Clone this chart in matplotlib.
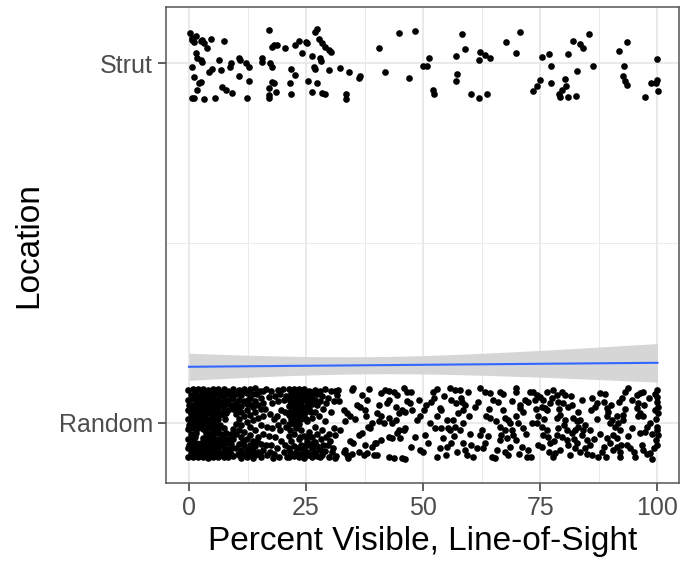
import numpy as np
import matplotlib.pyplot as plt

plt.rcParams['font.family'] = ['Liberation Sans', 'DejaVu Sans']

categories = ["Random", "Strut"]
x_ticks = [0, 25, 50, 75, 100]

# Strut points: (percent visible, vertical jitter)
strut_pts = [
    (0.2, 0.085), (0.7, 0.069), (1.1, 0.059), (0.6, 0.064), (1.6, 0.075), (2.6, 0.062), (3.2, 0.055),
    (2.8, 0.064), (3.9, 0.041), (4.6, 0.066), (7.5, 0.062), (1.4, 0.027), (1.8, 0.013), (2.5, 0.008),
    (2.8, 0.004), (0.7, -0.010), (1.1, -0.038), (2.5, -0.052), (2.1, -0.056), (1.8, -0.075), (0.6, -0.096),
    (1.1, -0.096), (3.3, -0.100), (5.5, -0.096), (4.3, -0.024), (5.0, -0.015), (6.8, -0.019), (6.4, 0.008),
    (7.1, -0.066), (7.8, -0.075), (9.2, -0.082), (8.9, -0.001), (8.7, -0.010), (10.7, 0.013), (11.0, 0.008),
    (12.2, 0.001), (12.8, -0.010), (10.7, -0.036), (12.8, -0.050), (12.3, -0.096), (15.6, 0.013),
    (15.6, 0.004), (17.4, -0.001), (17.8, -0.010), (17.1, 0.092), (18.1, 0.050), (18.8, 0.050),
    (17.8, 0.045), (20.6, 0.041), (22.7, 0.050), (23.5, 0.062), (24.9, 0.059), (25.2, 0.055), (24.2, 0.027),
    (26.3, 0.019), (26.9, 0.087), (27.4, 0.096), (27.7, 0.066), (28.4, 0.055), (29.1, 0.045), (29.9, 0.036),
    (30.4, 0.031), (27.9, 0.013), (28.1, 0.006), (26.7, -0.010), (27.0, -0.015), (29.9, -0.019),
    (32.3, -0.013), (34.1, -0.026), (36.3, -0.040), (36.6, -0.036), (21.7, -0.015), (22.7, -0.033),
    (21.5, -0.055), (21.7, -0.087), (17.8, -0.052), (18.1, -0.056), (17.1, -0.070), (17.1, -0.089),
    (17.1, -0.098), (18.5, -0.080), (25.4, -0.050), (27.4, -0.056), (26.3, -0.080), (28.4, -0.082),
    (29.1, -0.087), (33.6, -0.087), (33.6, -0.100), (40.5, 0.043), (41.8, -0.024), (44.8, 0.084),
    (46.9, -0.040), (48.3, 0.089),
    (50.0, -0.008), (50.9, -0.008), (51.3, 0.013), (52.0, -0.075), (52.3, -0.087), (58.2, 0.081),
    (58.9, 0.038), (57.1, 0.020), (57.3, -0.029), (57.1, -0.050), (62.1, 0.031), (62.0, 0.008),
    (63.2, 0.022), (64.3, 0.013), (60.3, -0.087), (62.0, -0.096), (63.7, -0.087), (67.7, 0.059),
    (70.7, 0.087), (69.9, 0.027), (75.3, 0.016), (76.9, 0.024), (77.3, -0.008), (77.3, -0.055),
    (74.9, -0.047), (74.2, -0.064), (73.5, -0.078), (80.3, -0.044), (80.5, -0.064), (79.6, -0.075),
    (78.9, -0.087), (79.1, -0.095), (81.0, -0.095), (82.6, -0.092), (80.8, 0.025), (81.9, 0.062),
    (83.5, 0.053), (84.2, 0.041), (85.3, 0.081), (82.8, -0.022), (86.2, -0.008), (91.7, 0.034),
    (93.6, 0.059), (92.9, -0.008), (92.7, -0.036), (93.1, -0.050), (93.5, -0.061), (97.4, -0.094),
    (98.6, -0.056), (100.0, 0.011), (100.0, -0.047), (99.7, -0.056), (100.2, -0.077),
]

# Random, dense blob 0-8 %: (x, jitter values at that x)
random_cols_a = [
    (-0.2, [0.092, 0.064, 0.037, 0.010, -0.017, -0.044, -0.071, -0.096]),
    (0.1, [0.050, -0.005, -0.060]),
    (0.4, [0.078, 0.051, 0.024, -0.003, -0.030, -0.057, -0.084]),
    (0.9, [0.095, 0.066, 0.040, 0.012, -0.015, -0.042, -0.069, -0.095]),
    (1.2, [0.086, 0.030, -0.040, -0.090]),
    (1.4, [0.080, 0.053, 0.026, -0.001, -0.028, -0.055, -0.082]),
    (2.0, [0.093, 0.067, 0.039, 0.013, -0.014, -0.068, -0.096]),
    (2.2, [0.060, 0.000, -0.075]),
    (2.5, [0.079, 0.052, 0.025, -0.002, -0.056, -0.083]),
    (2.8, [0.088, 0.040, -0.010, -0.088]),
    (3.1, [0.094, 0.065, 0.038, 0.011, -0.016, -0.043, -0.070, -0.094]),
    (3.3, [0.070, 0.020, -0.060]),
    (3.6, [0.081, 0.054, 0.027, 0.000, -0.029, -0.056, -0.083]),
    (4.1, [0.092, 0.066, 0.040, 0.012, -0.015, -0.042, -0.069, -0.097]),
    (4.4, [0.088, 0.030, -0.030, -0.088]),
    (4.7, [0.079, 0.052, 0.025, -0.002, -0.030, -0.057, -0.084]),
    (4.9, [0.060, 0.000, -0.070]),
    (5.2, [0.095, 0.067, 0.039, 0.013, -0.016, -0.043, -0.070, -0.095]),
    (5.5, [0.087, 0.045, -0.010, -0.085]),
    (5.7, [0.080, 0.053, 0.026, -0.001, -0.029, -0.055, -0.082]),
    (6.0, [0.065, 0.020, -0.060]),
    (6.3, [0.093, 0.065, 0.038, 0.011, -0.017, -0.044, -0.071, -0.096]),
    (6.6, [0.085, -0.005, -0.088]),
    (6.8, [0.078, 0.051, 0.024, -0.030, -0.058, -0.084]),
    (7.1, [0.055, 0.025, -0.050]),
    (7.4, [0.094, 0.066, 0.039, -0.015, -0.043, -0.069, -0.094]),
    (7.7, [0.087, 0.012, -0.075]),
    (7.9, [0.081, 0.053, 0.027, -0.028, -0.056, -0.082]),
]

# Random, 8-16 %
random_cols_b = [
    (8.4, [0.090, 0.063, 0.036, -0.045, -0.072, -0.095]),
    (8.9, [0.077, 0.050, -0.031, -0.058, -0.086]),
    (9.2, [0.085, -0.070]),
    (9.5, [0.094, 0.066, 0.040, -0.018, -0.045, -0.093]),
    (10.1, [0.080, 0.052, 0.025, -0.004, -0.032, -0.071]),
    (10.4, [0.040, -0.085]),
    (10.6, [0.092, 0.064, 0.012, -0.020, -0.058, -0.090]),
    (11.2, [0.078, 0.046, 0.030, -0.006, -0.040, -0.075, -0.097]),
    (11.5, [0.088, -0.050]),
    (11.8, [0.095, 0.060, 0.018, -0.026, -0.060, -0.085]),
    (12.4, [0.082, 0.052, 0.035, 0.002, -0.045, -0.072, -0.096]),
    (12.7, [0.065, -0.085]),
    (13.0, [0.093, 0.068, 0.022, -0.012, -0.033, -0.062, -0.086]),
    (13.3, [0.050, -0.070]),
    (13.6, [0.080, 0.045, 0.008, -0.050, -0.078, -0.097]),
    (14.2, [0.096, 0.062, 0.030, -0.020, -0.065, -0.090]),
    (14.5, [0.080, -0.050]),
    (14.8, [0.085, 0.050, 0.015, -0.038, -0.080]),
    (15.1, [0.090, -0.085]),
    (15.4, [0.070, 0.038, -0.005, -0.058, -0.095]),
    (15.9, [0.090, 0.055, 0.020, -0.030, -0.075]),
]

# Random, dense blob 21-27 %
random_cols_d = [
    (21.3, [0.093, 0.070, 0.047, 0.022, -0.002, -0.035, -0.070, -0.095]),
    (21.6, [0.060, 0.030, -0.020, -0.080]),
    (21.8, [0.082, 0.058, 0.034, 0.010, -0.050, -0.085]),
    (22.4, [0.095, 0.070, 0.046, 0.022, -0.003, -0.030, -0.065, -0.093]),
    (22.6, [0.088, 0.040, 0.000, -0.090]),
    (22.9, [0.083, 0.058, 0.034, 0.010, -0.015, -0.080]),
    (23.2, [0.065, 0.030, -0.070]),
    (23.5, [0.094, 0.070, 0.046, 0.022, -0.004, -0.045, -0.095]),
    (23.8, [0.088, 0.015, -0.040, -0.090]),
    (24.0, [0.082, 0.058, 0.034, 0.010, -0.020, -0.060, -0.085]),
    (24.3, [0.070, 0.040, -0.075]),
    (24.6, [0.093, 0.069, 0.045, 0.021, -0.035, -0.072, -0.097]),
    (24.9, [0.087, 0.010, -0.060, -0.090]),
    (25.1, [0.081, 0.057, 0.033, 0.005, -0.050, -0.080]),
    (25.4, [0.070, 0.045, -0.035]),
    (25.7, [0.090, 0.066, 0.040, -0.025, -0.060, -0.090]),
    (26.0, [0.085, 0.030, -0.085]),
    (26.2, [0.078, 0.052, 0.015, -0.040, -0.070, -0.096]),
    (26.5, [0.065, -0.055]),
    (26.8, [0.092, 0.065, 0.030, -0.010, -0.052, -0.082]),
    (27.3, [0.080, 0.050, -0.030, -0.065, -0.093]),
]

# Random, single points 16-21 % and 27-31 %
random_mid = [
    (16.5, 0.094), (16.3, 0.040), (16.7, -0.010), (16.4, -0.062), (16.6, -0.090),
    (17.0, 0.072), (17.2, 0.025), (17.1, -0.035), (17.3, -0.080),
    (17.6, 0.088), (17.8, 0.055), (17.7, -0.015), (17.5, -0.060), (17.9, -0.097),
    (18.3, 0.075), (18.1, 0.010), (18.4, -0.040), (18.2, -0.085),
    (18.9, 0.092), (19.1, 0.060), (18.8, 0.020), (19.0, -0.005), (18.7, -0.070), (19.2, -0.095),
    (19.5, 0.080), (19.7, 0.035), (19.4, -0.020), (19.6, -0.050),
    (20.1, 0.095), (20.3, 0.065), (20.0, 0.005), (20.2, -0.080),
    (20.7, 0.075), (20.5, 0.030), (20.8, -0.010), (20.6, -0.060), (20.9, -0.095),
    (27.9, 0.090), (28.0, 0.062), (27.8, 0.020), (28.1, -0.045), (27.9, -0.075), (28.0, -0.095),
    (28.5, 0.075), (28.6, 0.040), (28.4, -0.020), (28.7, -0.060), (28.5, -0.088),
    (29.1, 0.095), (29.2, 0.055), (29.0, 0.005), (29.3, -0.040), (29.1, -0.078),
    (29.7, 0.068), (29.8, -0.030), (29.6, -0.062), (29.9, -0.095),
    (30.3, 0.088), (30.4, 0.030), (30.2, -0.050), (30.5, -0.080),
    (30.9, 0.060), (31.0, -0.015), (30.8, -0.070), (31.1, -0.098),
]

# Random, 31-47 %
random_left = [
    (31.2, 0.088), (31.9, 0.092), (31.6, 0.078), (33.0, 0.036), (32.3, -0.019), (31.2, -0.033),
    (33.3, -0.075), (34.0, -0.098), (35.1, 0.096), (36.9, 0.078), (38.0, 0.064), (35.8, 0.050),
    (37.6, 0.036), (36.5, 0.045), (33.7, 0.027), (34.4, 0.018), (38.3, -0.010), (38.7, -0.015),
    (36.9, -0.029), (36.2, -0.033), (35.1, -0.056), (37.6, -0.060), (39.0, -0.066), (36.2, -0.080),
    (38.0, -0.084), (39.4, -0.089), (33.7, -0.088), (34.4, -0.050),
    (40.9, 0.082), (41.9, 0.092), (42.6, 0.064), (42.3, 0.055), (43.7, 0.087), (44.4, 0.078),
    (45.9, 0.096), (46.6, 0.087), (40.5, 0.050), (40.2, 0.027), (40.5, 0.004), (41.6, -0.001),
    (42.6, 0.013), (44.1, 0.008), (44.8, 0.027), (45.5, 0.036), (46.2, 0.031), (45.8, -0.019),
    (44.4, -0.029), (45.1, -0.043), (43.4, -0.043), (40.9, -0.047), (40.0, -0.056), (42.6, -0.094),
    (43.7, -0.098), (45.5, -0.098), (46.2, -0.099), (40.2, -0.089),
    (33.0, -0.080), (31.3, -0.093), (34.8, -0.085), (37.3, -0.090), (39.8, -0.057), (42.6, -0.038),
    (44.8, -0.020), (46.2, -0.015), (44.1, 0.045), (46.6, 0.060), (42.6, 0.090), (38.4, 0.094),
    (34.8, 0.092), (32.0, 0.060), (33.4, 0.005), (35.5, 0.010), (37.7, 0.018), (39.1, 0.000),
    (41.0, 0.020), (43.4, 0.000),
]

# Random, 47-100 %
random_right = [
    (47.4, 0.087), (47.2, 0.055), (47.7, 0.036), (48.6, 0.008), (49.3, 0.018), (50.1, 0.036), (50.7, 0.050),
    (50.4, -0.033), (47.5, -0.066), (49.3, -0.075), (49.9, -0.082), (52.0, 0.087), (52.9, 0.094),
    (52.3, 0.069), (51.6, 0.059), (53.6, 0.041), (53.9, 0.036), (52.5, -0.015), (53.9, -0.015),
    (54.3, -0.043), (53.6, -0.070), (52.9, -0.094), (55.0, -0.066), (55.3, -0.015), (55.7, -0.019),
    (55.0, 0.008), (55.7, 0.096), (56.8, 0.092), (57.8, 0.092), (56.0, 0.064), (57.1, 0.055),
    (58.2, 0.059), (58.9, 0.050), (59.6, 0.087), (58.5, 0.036), (57.5, 0.027), (56.4, 0.008),
    (56.8, -0.010), (57.8, -0.019), (58.5, -0.001), (56.0, -0.056), (58.5, -0.056), (58.9, -0.075),
    (60.3, -0.061), (59.3, -0.089), (60.7, -0.094), (62.1, 0.096), (63.2, 0.087), (64.2, 0.082),
    (61.8, 0.059), (63.5, 0.018), (64.2, 0.013), (62.5, -0.019), (62.1, -0.033), (63.2, -0.056),
    (62.8, -0.070), (64.6, -0.094), (65.3, -0.098), (66.4, 0.087), (66.0, 0.059), (64.9, 0.064),
    (67.1, 0.036), (67.5, 0.013), (66.4, -0.010), (67.5, -0.019), (66.7, -0.033), (67.8, -0.043),
    (68.5, -0.001), (68.2, 0.008), (68.9, -0.019), (68.5, -0.066), (67.5, -0.080), (66.4, -0.047),
    (69.8, 0.096), (69.9, 0.087), (70.7, 0.050), (70.7, 0.041), (69.9, 0.018), (70.3, -0.001),
    (71.4, -0.015), (69.2, -0.033), (69.9, -0.047), (71.0, -0.066), (72.4, -0.075), (72.1, -0.094),
    (72.8, 0.087), (71.7, 0.064), (72.4, 0.059), (73.5, 0.087), (74.2, 0.078), (73.9, 0.064),
    (74.9, 0.073), (75.3, 0.045), (76.0, 0.041), (75.6, 0.064), (76.4, 0.087), (77.8, 0.092),
    (74.6, 0.018), (74.2, -0.001), (75.3, -0.010), (76.4, -0.019), (75.6, -0.033), (76.7, -0.038),
    (74.6, -0.061), (75.3, -0.066), (77.1, -0.056), (77.8, -0.094), (78.1, -0.084), (76.4, 0.036),
    (77.1, 0.055), (78.5, 0.078), (79.6, 0.087), (80.3, 0.078), (78.8, 0.059), (79.9, 0.055),
    (81.0, 0.045), (79.2, 0.022), (78.5, 0.013), (80.3, 0.008), (80.6, -0.019), (78.8, -0.015),
    (78.5, -0.033), (79.6, -0.038), (80.6, -0.047), (81.0, -0.061), (79.2, -0.075), (81.3, -0.089),
    (81.7, 0.050), (82.0, 0.013), (82.8, 0.004), (83.5, 0.008), (83.1, -0.010), (82.4, -0.019),
    (84.2, -0.019), (83.8, -0.033), (84.9, -0.047), (82.4, -0.070), (83.5, -0.080), (84.5, -0.070),
    (85.6, -0.061), (86.0, -0.089), (82.8, -0.056), (81.7, -0.029), (85.6, -0.019), (86.7, 0.045),
    (87.7, 0.082), (88.5, 0.059), (89.2, 0.041), (89.5, 0.031), (87.0, 0.055), (86.0, 0.069),
    (89.2, 0.018), (90.2, 0.008), (89.9, -0.001), (91.0, -0.010), (90.6, -0.033), (89.2, -0.043),
    (89.9, -0.056), (91.3, -0.066), (92.0, -0.080), (92.0, -0.094), (88.1, -0.080), (87.4, -0.094),
    (88.5, -0.066), (91.7, 0.059), (92.4, 0.069), (93.1, 0.087), (93.8, 0.096), (91.3, 0.018),
    (92.7, 0.022), (92.0, -0.019), (91.3, -0.043), (94.2, -0.070), (94.9, -0.080), (93.4, -0.061),
    (92.7, 0.008), (95.6, 0.078), (96.3, 0.082), (97.0, 0.087), (95.9, 0.055), (95.6, 0.041),
    (96.3, 0.027), (97.0, 0.018), (97.7, -0.010), (97.4, -0.024), (96.3, -0.029), (98.4, -0.084),
    (98.8, -0.099), (97.0, -0.075), (99.9, 0.092), (100.0, 0.073), (99.9, 0.059), (99.5, 0.036),
    (100.2, 0.027), (99.9, -0.010), (99.9, -0.019), (100.2, -0.033), (100.0, -0.061), (99.7, -0.047),
    # partly hidden points in the clumps
    (48.2, -0.040), (49.0, 0.065), (51.0, -0.055), (51.5, 0.000), (53.0, 0.020), (54.5, 0.075),
    (54.8, -0.090), (56.5, -0.035), (57.2, -0.080), (58.0, 0.070), (59.8, 0.020), (60.0, -0.030),
    (61.0, 0.045), (61.5, -0.070), (63.8, -0.035), (64.0, 0.040), (65.5, 0.005), (65.8, -0.075),
    (67.0, 0.080), (68.0, -0.090), (69.0, 0.060), (70.5, -0.085), (71.2, 0.030), (72.0, -0.030),
    (73.2, 0.000), (73.0, -0.095), (74.0, 0.040), (75.8, 0.010), (76.8, -0.080), (77.5, 0.070),
    (78.0, -0.050), (79.0, 0.040), (80.0, -0.005), (81.5, 0.075), (82.2, -0.045), (83.0, 0.030),
    (83.8, 0.065), (84.6, -0.005), (85.0, -0.085), (85.8, 0.035), (86.5, -0.045), (87.2, 0.010),
    (87.8, -0.030), (88.8, 0.080), (89.0, -0.095), (90.0, 0.050), (90.5, -0.075), (91.5, 0.000),
    (92.2, -0.060), (93.0, 0.040), (93.8, -0.035), (94.5, 0.065), (94.6, -0.015), (95.2, -0.095),
    (95.8, 0.020), (96.6, -0.060), (97.2, 0.050), (97.8, -0.085), (98.2, 0.070), (98.5, 0.000),
    (99.2, -0.070), (99.4, 0.080), (98.9, -0.030), (100.1, 0.045), (99.6, 0.010),
]

# collect
rx, rdy = [], []
for cols in (random_cols_a, random_cols_b, random_cols_d):
    for x, dys in cols:
        for d in dys:
            rx.append(x)
            rdy.append(d)
for pts in (random_mid, random_left, random_right):
    for x, d in pts:
        rx.append(x)
        rdy.append(d)
rx = np.array(rx)
rdy = np.array(rdy)
sx = np.array([p[0] for p in strut_pts])
sdy = np.array([p[1] for p in strut_pts])

fig = plt.figure(figsize=(6.84, 5.67), dpi=100)
ax = fig.add_axes([0.2427, 0.1481, 0.7500, 0.8396])

ax.scatter(rx, 1 + rdy, s=23, color='black', linewidths=0, zorder=3)
ax.scatter(sx, 2 + sdy, s=23, color='black', linewidths=0, zorder=3)

# linear smooth of Location (Random=1, Strut=2) on percent visible
xs = np.concatenate([rx, sx])
ys = np.concatenate([np.ones(len(rx)), 2 * np.ones(len(sx))])
b1, b0 = np.polyfit(xs, ys, 1)
n = len(xs)
res = ys - (b0 + b1 * xs)
sd = np.sqrt(np.sum(res ** 2) / (n - 2))
xg = np.linspace(0, 100, 101)
se = sd * np.sqrt(1 / n + (xg - xs.mean()) ** 2 / np.sum((xs - xs.mean()) ** 2))
fit = b0 + b1 * xg
ax.fill_between(xg, fit - 1.96 * se, fit + 1.96 * se, color='#d6d6d6', linewidth=0, zorder=4)
ax.plot(xg, fit, color='#3366FF', lw=1.5, zorder=5)

ax.set_xlim(-4.9, 104.6)
ax.set_ylim(0.833, 2.156)
ax.set_xticks(x_ticks)
ax.set_xticks([12.5, 37.5, 62.5, 87.5], minor=True)
ax.set_yticks([1, 2])
ax.set_yticklabels(categories)
ax.set_yticks([1.5], minor=True)

ax.grid(which='major', color='#e8e8e8', lw=1.3)
ax.grid(which='minor', color='#ebebeb', lw=0.7)
ax.set_axisbelow(True)

for sp in ax.spines.values():
    sp.set_color('#555555')
    sp.set_linewidth(1.1)

ax.tick_params(which='major', length=5.5, width=1.1, color='#333333',
               labelsize=18, labelcolor='#4d4d4d', pad=4)
ax.tick_params(which='minor', length=0)

ax.set_xlabel("Percent Visible, Line-of-Sight", fontsize=24, labelpad=4)
ax.set_ylabel("Location", fontsize=24, labelpad=10)

fig.savefig('out.png', dpi=100)
